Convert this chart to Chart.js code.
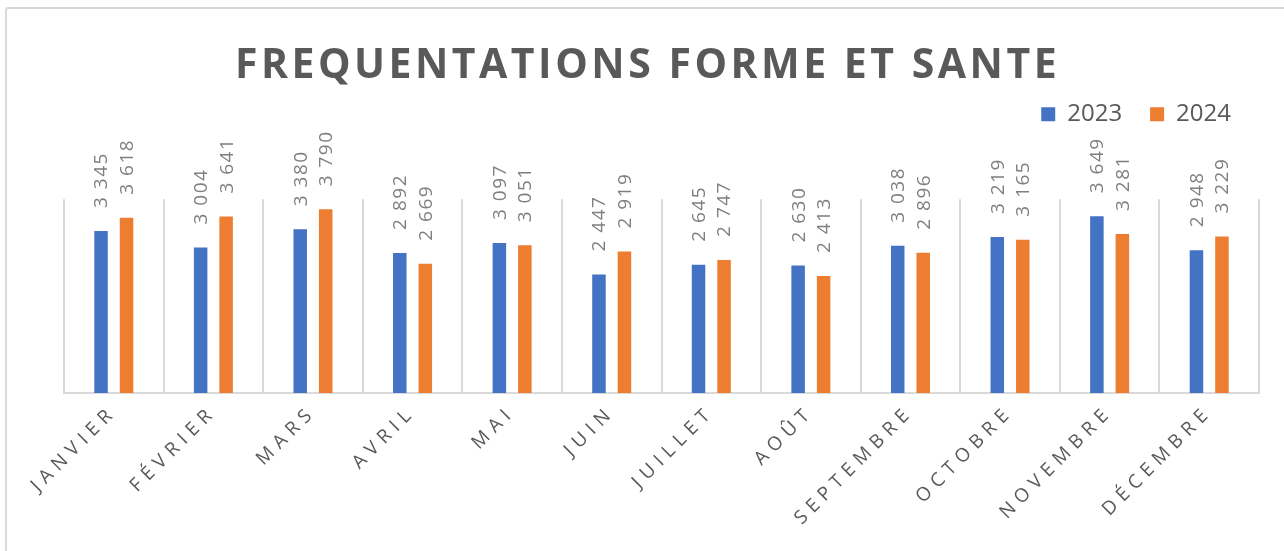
<!DOCTYPE html>
<html lang="fr">
<head>
<meta charset="utf-8">
<title>Fréquentations forme et santé</title>
<script src="https://cdn.jsdelivr.net/npm/chart.js@4.4.1/dist/chart.umd.min.js"></script>
<style>
    html, body { margin: 0; padding: 0; background: #fff; overflow: hidden; }
    body { width: 1284px; height: 551px; position: relative; }
    #cadre {
        position: absolute; left: 5px; top: 7px; width: 1300px; height: 600px;
        border: 2px solid #d9d9d9; border-radius: 3px; box-sizing: border-box;
    }
    #graphique { position: absolute; left: 0; top: 0; }
</style>
</head>
<body>
<div id="cadre"></div>
<canvas id="graphique" width="1284" height="551"></canvas>
<script>
const mois = ['JANVIER', 'FÉVRIER', 'MARS', 'AVRIL', 'MAI', 'JUIN', 'JUILLET', 'AOÛT', 'SEPTEMBRE', 'OCTOBRE', 'NOVEMBRE', 'DÉCEMBRE'];
const annees = ['2023', '2024'];
const valeurs2023 = [3345, 3004, 3380, 2892, 3097, 2447, 2645, 2630, 3038, 3219, 3649, 2948];
const valeurs2024 = [3618, 3641, 3790, 2669, 3051, 2919, 2747, 2413, 2896, 3165, 3281, 3229];
const couleurs = ['#4472C4', '#ED7D31'];
const titre = 'FREQUENTATIONS FORME ET SANTE';

function formaterNombre(n) {
    return String(n).replace(/\B(?=(\d{3})+(?!\d))/g, ' ');
}

// espacement des lettres pour le titre et les mois (non géré par Chart.js)
const espacement = {
    id: 'espacement',
    afterLayout(chart) {
        const titreBloc = chart.titleBlock;
        if (titreBloc && !titreBloc.espace) {
            const dessin = titreBloc.draw;
            titreBloc.draw = function (zone) {
                this.ctx.save();
                this.ctx.letterSpacing = '3.5px';
                this.ctx.translate(-14, 0); // titre centré sur le cadre, pas sur la zone du graphique
                dessin.call(this, zone);
                this.ctx.restore();
            };
            titreBloc.espace = true;
        }
        const axeX = chart.scales.x;
        if (axeX && !axeX.espace) {
            const dessinLabels = axeX.drawLabels;
            axeX.drawLabels = function (zone) {
                this.ctx.save();
                this.ctx.letterSpacing = '6px';
                dessinLabels.call(this, zone);
                this.ctx.restore();
            };
            axeX.espace = true;
        }
    }
};

// valeurs verticales au-dessus des barres
const etiquettesBarres = {
    id: 'etiquettesBarres',
    afterDatasetsDraw(chart) {
        const ctx = chart.ctx;
        ctx.save();
        ctx.font = '400 19px "Open Sans"';
        ctx.fillStyle = '#7f7f7f';
        ctx.letterSpacing = '1.5px';
        ctx.textAlign = 'left';
        ctx.textBaseline = 'middle';
        chart.data.datasets.forEach((ds, i) => {
            chart.getDatasetMeta(i).data.forEach((barre, j) => {
                ctx.save();
                ctx.translate(barre.x, barre.y - 23);
                ctx.rotate(-Math.PI / 2);
                ctx.fillText(formaterNombre(ds.data[j]), 0, 1);
                ctx.restore();
            });
        });
        ctx.restore();
    }
};

new Chart(document.getElementById('graphique'), {
    type: 'bar',
    data: {
        labels: mois,
        datasets: [
            { label: annees[0], data: valeurs2023, backgroundColor: couleurs[0], xAxisID: 'x', yAxisID: 'y' },
            { label: annees[1], data: valeurs2024, backgroundColor: couleurs[1], xAxisID: 'x', yAxisID: 'y' }
        ]
    },
    options: {
        responsive: false,
        animation: false,
        devicePixelRatio: 1,
        categoryPercentage: 0.512,
        barPercentage: 0.53,
        layout: { padding: { left: 64, right: 25, top: 0, bottom: 0 } },
        plugins: {
            title: {
                display: true,
                text: titre,
                color: '#595959',
                font: { family: 'Open Sans', size: 41, weight: 'bold' },
                padding: { top: 42, bottom: -17 }
            },
            legend: {
                position: 'top',
                align: 'end',
                labels: {
                    boxWidth: 14,
                    boxHeight: 14,
                    padding: 28,
                    color: '#595959',
                    font: { family: 'Open Sans', size: 24 }
                }
            },
            tooltip: { enabled: false }
        },
        scales: {
            x: {
                position: 'bottom',
                grid: { offset: true, color: '#d9d9d9', lineWidth: 2, drawTicks: false },
                border: { color: '#d9d9d9', width: 2 },
                ticks: {
                    color: '#595959',
                    font: { family: 'Open Sans', size: 19 },
                    minRotation: 45,
                    maxRotation: 45,
                    autoSkip: false,
                    padding: 8
                },
                afterFit: (axe) => { axe.height = 158; }
            },
            y: {
                display: false,
                min: 0,
                max: 4000
            },
            espace: {
                type: 'category',
                position: 'top',
                display: true,
                grid: { display: false },
                border: { display: false },
                ticks: { display: false },
                afterFit: (axe) => { axe.height = 63; }
            }
        }
    },
    plugins: [espacement, etiquettesBarres]
});
</script>
</body>
</html>
